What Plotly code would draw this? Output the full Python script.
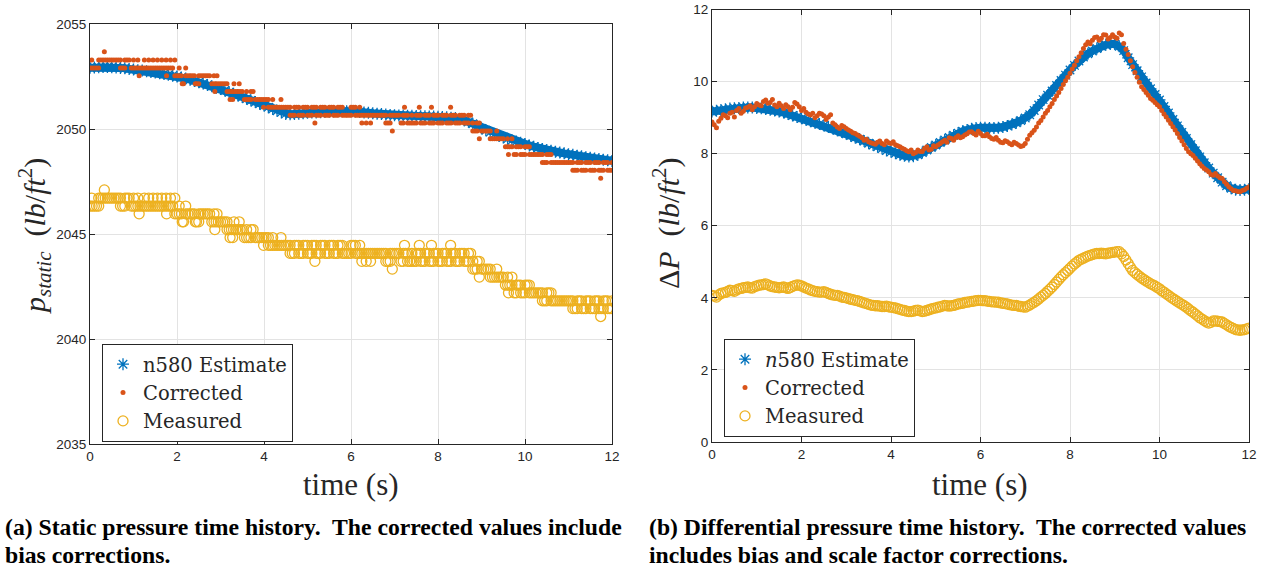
import plotly.graph_objects as go

# ---------------- data ----------------
t = [round(0.1 * i, 1) for i in range(121)]
t_mid = [round(0.05 + 0.1 * i, 2) for i in range(120)]

# (a) static pressure
ps_est = [2052.92, 2052.93, 2052.94, 2052.95, 2052.95, 2052.94, 2052.93, 2052.91, 2052.89, 2052.86,
          2052.83, 2052.80, 2052.78, 2052.75, 2052.72, 2052.69, 2052.65, 2052.62, 2052.58, 2052.54,
          2052.50, 2052.45, 2052.40, 2052.35, 2052.29, 2052.23, 2052.17, 2052.10, 2052.04, 2051.97,
          2051.90, 2051.83, 2051.75, 2051.68, 2051.60, 2051.52, 2051.44, 2051.36, 2051.28, 2051.20,
          2051.12, 2051.04, 2050.95, 2050.87, 2050.79, 2050.72, 2050.70, 2050.71, 2050.73, 2050.75,
          2050.77, 2050.78, 2050.79, 2050.80, 2050.81, 2050.82, 2050.83, 2050.84, 2050.84, 2050.85,
          2050.85, 2050.83, 2050.81, 2050.79, 2050.77, 2050.75, 2050.73, 2050.71, 2050.69, 2050.67,
          2050.65, 2050.64, 2050.64, 2050.63, 2050.63, 2050.62, 2050.61, 2050.61, 2050.60, 2050.59,
          2050.58, 2050.57, 2050.56, 2050.54, 2050.52, 2050.48, 2050.42, 2050.34, 2050.25, 2050.14,
          2050.03, 2049.94, 2049.85, 2049.76, 2049.68, 2049.60, 2049.53, 2049.46, 2049.40, 2049.34,
          2049.28, 2049.22, 2049.16, 2049.10, 2049.05, 2049.00, 2048.96, 2048.92, 2048.88, 2048.84,
          2048.80, 2048.77, 2048.73, 2048.70, 2048.66, 2048.63, 2048.60, 2048.57, 2048.54, 2048.51,
          2048.48]

ps_corr = [2052.91, 2052.91, 2052.91, 2053.29, 2053.29, 2053.29, 2053.29, 2052.91, 2052.91, 2053.29,
           2052.91, 2052.91, 2052.91, 2052.91, 2052.91, 2052.91, 2052.91, 2052.91, 2052.91, 2052.91,
           2052.54, 2052.54, 2052.54, 2052.54, 2052.54, 2052.54, 2052.54, 2052.54, 2052.16, 2052.16,
           2052.16, 2052.16, 2051.79, 2051.79, 2051.79, 2051.79, 2051.41, 2051.41, 2051.41, 2051.41,
           2051.41, 2051.04, 2051.04, 2051.04, 2051.04, 2051.04, 2051.04, 2051.04, 2050.66, 2050.66,
           2050.66, 2050.66, 2050.66, 2050.66, 2050.66, 2050.66, 2050.66, 2050.66, 2050.66, 2050.66,
           2050.66, 2050.66, 2050.66, 2050.66, 2050.66, 2050.66, 2050.66, 2050.66, 2050.66, 2050.66,
           2050.66, 2050.66, 2050.28, 2050.28, 2050.66, 2050.28, 2050.66, 2050.28, 2050.66, 2050.28,
           2050.66, 2050.28, 2050.66, 2050.28, 2050.66, 2050.28, 2050.66, 2050.28, 2050.28, 2049.91,
           2049.91, 2049.91, 2049.91, 2049.53, 2049.53, 2049.53, 2049.15, 2049.15, 2049.15, 2048.78,
           2048.78, 2048.78, 2048.78, 2048.78, 2048.78, 2048.40, 2048.40, 2048.40, 2048.40, 2048.40,
           2048.40, 2048.40, 2048.03, 2048.40, 2048.03, 2048.40, 2048.03, 2048.40, 2048.03, 2048.40,
           2048.03]

ps_corr_mid = [2052.91, 2052.91, 2053.29, 2053.29, 2053.29, 2053.29, 2053.29, 2052.91, 2053.29, 2052.91,
               2052.91, 2052.91, 2052.91, 2052.91, 2052.91, 2052.91, 2052.91, 2052.91, 2052.91, 2052.54,
               2052.54, 2052.16, 2052.54, 2052.54, 2052.16, 2052.54, 2052.54, 2052.54, 2052.16, 2052.16,
               2052.16, 2051.79, 2051.79, 2051.79, 2051.79, 2051.41, 2051.41, 2051.79, 2051.41, 2051.41,
               2051.41, 2051.04, 2051.04, 2051.04, 2051.04, 2051.04, 2050.66, 2051.04, 2050.66, 2051.04,
               2050.66, 2051.04, 2050.66, 2051.04, 2050.66, 2051.04, 2050.66, 2051.04, 2050.66, 2050.66,
               2051.04, 2050.66, 2050.66, 2050.66, 2050.66, 2050.66, 2050.66, 2050.66, 2050.28, 2050.66,
               2050.66, 2050.28, 2050.66, 2050.28, 2050.28, 2050.66, 2050.28, 2050.66, 2050.28, 2050.66,
               2050.28, 2050.66, 2050.28, 2050.66, 2050.28, 2050.66, 2050.28, 2050.66, 2049.91, 2050.28,
               2049.91, 2049.91, 2049.53, 2049.53, 2049.53, 2049.15, 2049.15, 2048.78, 2049.15, 2048.78,
               2049.15, 2048.78, 2048.78, 2048.78, 2048.40, 2048.78, 2048.40, 2048.40, 2048.40, 2048.40,
               2048.40, 2048.03, 2048.40, 2048.03, 2048.40, 2048.03, 2048.40, 2048.03, 2048.40, 2048.03]

ps_corr_extra_t = [0.04, 0.2, 0.33, 0.7, 0.8, 1.0, 1.1, 1.13, 1.25, 1.35, 1.45, 1.55, 1.65, 1.75, 1.76,
                   1.85, 1.95, 2.05, 2.12, 2.2, 2.42, 2.5, 2.85, 2.87, 2.92, 3.15, 3.22, 3.28, 3.31, 3.43,
                   3.6, 3.7, 3.99, 4.1, 4.2, 4.39, 4.6, 4.7, 4.8, 4.9, 5.0, 5.1, 5.17, 5.2, 5.3, 5.4, 5.5,
                   5.6, 5.7, 5.8, 6.0, 6.1, 6.2, 6.25, 6.35, 6.45, 6.8, 6.9, 6.95, 7.2, 7.23, 7.3, 7.4,
                   7.5, 7.57, 7.6, 7.7, 7.8, 7.85, 7.9, 8.0, 8.1, 8.2, 8.29, 8.3, 8.4, 8.5, 8.6, 8.7, 8.8,
                   8.9, 8.95, 9.2, 9.35, 9.6, 9.62, 9.7, 9.8, 9.9, 10.0, 10.1, 10.4, 10.5, 10.6, 11.1,
                   11.2, 11.3, 11.4, 11.5, 11.6, 11.7, 11.74, 11.8, 11.9, 12.0]
ps_corr_extra = [2053.29, 2053.29, 2053.68, 2053.29, 2053.29, 2053.29, 2053.29, 2052.54, 2053.29, 2053.29,
                 2053.29, 2053.29, 2053.29, 2053.29, 2052.54, 2053.29, 2053.29, 2052.91, 2052.16, 2052.91,
                 2052.16, 2052.16, 2052.54, 2051.79, 2052.54, 2052.16, 2051.41, 2051.41, 2052.16, 2052.16,
                 2051.79, 2051.79, 2051.04, 2051.41, 2051.41, 2051.41, 2050.66, 2050.66, 2051.04, 2051.04,
                 2051.04, 2051.04, 2050.28, 2051.04, 2051.04, 2051.04, 2051.04, 2051.04, 2051.04, 2051.04,
                 2051.04, 2051.04, 2051.04, 2050.28, 2050.28, 2050.28, 2050.28, 2050.28, 2049.91, 2050.66,
                 2051.04, 2050.66, 2050.28, 2050.66, 2051.04, 2050.28, 2050.66, 2050.28, 2051.04, 2050.66,
                 2050.28, 2050.66, 2050.28, 2051.04, 2050.66, 2050.28, 2050.66, 2050.28, 2050.66, 2049.91,
                 2050.28, 2049.53, 2049.53, 2049.91, 2049.53, 2048.78, 2049.53, 2048.78, 2049.15, 2049.15,
                 2049.15, 2048.40, 2048.78, 2048.78, 2048.03, 2048.40, 2048.03, 2048.40, 2048.03, 2048.40,
                 2048.03, 2047.65, 2048.40, 2048.03, 2048.40]

ps_meas = [2046.33, 2046.33, 2046.33, 2046.71, 2046.71, 2046.71, 2046.71, 2046.33, 2046.33, 2046.71,
           2046.33, 2046.33, 2046.33, 2046.33, 2046.33, 2046.33, 2046.33, 2046.33, 2046.33, 2046.33,
           2045.96, 2045.96, 2045.96, 2045.96, 2045.96, 2045.96, 2045.96, 2045.96, 2045.58, 2045.58,
           2045.58, 2045.58, 2045.21, 2045.21, 2045.21, 2045.21, 2044.83, 2044.83, 2044.83, 2044.83,
           2044.83, 2044.46, 2044.46, 2044.46, 2044.46, 2044.46, 2044.46, 2044.46, 2044.08, 2044.08,
           2044.08, 2044.08, 2044.08, 2044.08, 2044.08, 2044.08, 2044.08, 2044.08, 2044.08, 2044.08,
           2044.08, 2044.08, 2044.08, 2044.08, 2044.08, 2044.08, 2044.08, 2044.08, 2044.08, 2044.08,
           2044.08, 2044.08, 2043.70, 2043.70, 2044.08, 2043.70, 2044.08, 2043.70, 2044.08, 2043.70,
           2044.08, 2043.70, 2044.08, 2043.70, 2044.08, 2043.70, 2044.08, 2043.70, 2043.70, 2043.33,
           2043.33, 2043.33, 2043.33, 2042.95, 2042.95, 2042.95, 2042.57, 2042.57, 2042.57, 2042.20,
           2042.20, 2042.20, 2042.20, 2042.20, 2042.20, 2041.82, 2041.82, 2041.82, 2041.82, 2041.82,
           2041.82, 2041.82, 2041.45, 2041.82, 2041.45, 2041.82, 2041.45, 2041.82, 2041.45, 2041.82,
           2041.45]

ps_meas_mid = [2046.33, 2046.33, 2046.71, 2046.71, 2046.71, 2046.71, 2046.71, 2046.33, 2046.71, 2046.33,
               2046.33, 2046.33, 2046.33, 2046.33, 2046.33, 2046.33, 2046.33, 2046.33, 2046.33, 2045.96,
               2045.96, 2045.58, 2045.96, 2045.96, 2045.58, 2045.96, 2045.96, 2045.96, 2045.58, 2045.58,
               2045.58, 2045.21, 2045.21, 2045.21, 2045.21, 2044.83, 2044.83, 2045.21, 2044.83, 2044.83,
               2044.83, 2044.46, 2044.46, 2044.46, 2044.46, 2044.46, 2044.08, 2044.46, 2044.08, 2044.46,
               2044.08, 2044.46, 2044.08, 2044.46, 2044.08, 2044.46, 2044.08, 2044.46, 2044.08, 2044.08,
               2044.46, 2044.08, 2044.08, 2044.08, 2044.08, 2044.08, 2044.08, 2044.08, 2043.70, 2044.08,
               2044.08, 2043.70, 2044.08, 2043.70, 2043.70, 2044.08, 2043.70, 2044.08, 2043.70, 2044.08,
               2043.70, 2044.08, 2043.70, 2044.08, 2043.70, 2044.08, 2043.70, 2044.08, 2043.33, 2043.70,
               2043.33, 2043.33, 2042.95, 2042.95, 2042.95, 2042.57, 2042.57, 2042.20, 2042.57, 2042.20,
               2042.57, 2042.20, 2042.20, 2042.20, 2041.82, 2042.20, 2041.82, 2041.82, 2041.82, 2041.82,
               2041.82, 2041.45, 2041.82, 2041.45, 2041.82, 2041.45, 2041.82, 2041.45, 2041.82, 2041.45]

ps_meas_extra_t = ps_corr_extra_t
ps_meas_extra = [2046.71, 2046.71, 2047.10, 2046.71, 2046.71, 2046.71, 2046.71, 2045.96, 2046.71, 2046.71,
                 2046.71, 2046.71, 2046.71, 2046.71, 2045.96, 2046.71, 2046.71, 2046.33, 2045.58, 2046.33,
                 2045.58, 2045.58, 2045.96, 2045.21, 2045.96, 2045.58, 2044.83, 2044.83, 2045.58, 2045.58,
                 2045.21, 2045.21, 2044.46, 2044.83, 2044.83, 2044.83, 2044.08, 2044.08, 2044.46, 2044.46,
                 2044.46, 2044.46, 2043.70, 2044.46, 2044.46, 2044.46, 2044.46, 2044.46, 2044.46, 2044.46,
                 2044.46, 2044.46, 2044.46, 2043.70, 2043.70, 2043.70, 2043.70, 2043.70, 2043.33, 2044.08,
                 2044.46, 2044.08, 2043.70, 2044.08, 2044.46, 2043.70, 2044.08, 2043.70, 2044.46, 2044.08,
                 2043.70, 2044.08, 2043.70, 2044.46, 2044.08, 2043.70, 2044.08, 2043.70, 2044.08, 2043.33,
                 2043.70, 2042.95, 2042.95, 2043.33, 2042.95, 2042.20, 2042.95, 2042.20, 2042.57, 2042.57,
                 2042.57, 2041.82, 2042.20, 2042.20, 2041.45, 2041.82, 2041.45, 2041.82, 2041.45, 2041.82,
                 2041.45, 2041.07, 2041.82, 2041.45, 2041.82]

# (b) differential pressure
dp_est = [9.17, 9.19, 9.21, 9.23, 9.25, 9.26, 9.27, 9.28, 9.28, 9.28,
          9.27, 9.26, 9.24, 9.22, 9.20, 9.17, 9.14, 9.10, 9.06, 9.02,
          8.98, 8.94, 8.90, 8.86, 8.82, 8.78, 8.74, 8.70, 8.65, 8.60,
          8.55, 8.50, 8.45, 8.40, 8.35, 8.29, 8.24, 8.19, 8.14, 8.09,
          8.05, 8.01, 7.97, 7.94, 7.92, 7.93, 7.97, 8.03, 8.10, 8.17,
          8.24, 8.31, 8.38, 8.45, 8.51, 8.57, 8.62, 8.66, 8.69, 8.71,
          8.72, 8.72, 8.71, 8.71, 8.72, 8.74, 8.77, 8.81, 8.86, 8.92,
          8.99, 9.08, 9.20, 9.35, 9.50, 9.62, 9.74, 9.89, 10.03, 10.18,
          10.32, 10.45, 10.57, 10.68, 10.77, 10.85, 10.92, 10.98, 11.02, 11.04,
          11.04, 10.98, 10.86, 10.66, 10.47, 10.30, 10.13, 9.96, 9.80, 9.64,
          9.49, 9.31, 9.13, 8.95, 8.77, 8.59, 8.42, 8.25, 8.08, 7.91,
          7.75, 7.60, 7.46, 7.33, 7.21, 7.11, 7.04, 7.00, 6.99, 7.00,
          7.02]

dp_corr = [8.88, 8.72, 8.98, 9.05, 9.12, 9.02, 9.25, 9.18, 9.29, 9.22,
           9.39, 9.33, 9.49, 9.42, 9.35, 9.40, 9.25, 9.30, 9.29, 9.38,
           9.20, 9.15, 9.07, 9.00, 9.12, 9.05, 9.02, 8.85, 8.74, 8.78,
           8.70, 8.62, 8.56, 8.48, 8.37, 8.33, 8.28, 8.32, 8.28, 8.35,
           8.28, 8.25, 8.19, 8.12, 8.05, 8.00, 8.10, 8.06, 8.19, 8.12,
           8.19, 8.28, 8.37, 8.44, 8.37, 8.50, 8.47, 8.55, 8.61, 8.52,
           8.56, 8.50, 8.47, 8.40, 8.37, 8.30, 8.33, 8.25, 8.28, 8.20,
           8.28, 8.51, 8.65, 8.85, 9.02, 9.20, 9.39, 9.60, 9.81, 10.02,
           10.23, 10.45, 10.69, 10.92, 11.10, 11.15, 11.24, 11.20, 11.29, 11.22,
           11.24, 11.35, 11.06, 10.75, 10.41, 10.12, 9.86, 9.70, 9.53, 9.42,
           9.30, 9.10, 8.93, 8.75, 8.56, 8.35, 8.14, 8.00, 7.87, 7.72,
           7.59, 7.50, 7.40, 7.38, 7.31, 7.15, 7.03, 6.97, 6.94, 7.00,
           7.08]

dp_corr_mid = [8.80, 8.90, 9.08, 9.00, 9.15, 9.20, 9.12, 9.27, 9.33, 9.30,
               9.35, 9.45, 9.40, 9.50, 9.30, 9.33, 9.36, 9.22, 9.42, 9.30,
               9.25, 9.10, 9.12, 9.05, 9.10, 8.95, 9.08, 8.80, 8.70, 8.75,
               8.66, 8.58, 8.52, 8.44, 8.40, 8.30, 8.26, 8.35, 8.25, 8.30,
               8.33, 8.22, 8.15, 8.08, 8.10, 8.03, 8.06, 8.14, 8.10, 8.22,
               8.24, 8.33, 8.32, 8.42, 8.45, 8.44, 8.52, 8.60, 8.56, 8.62,
               8.50, 8.54, 8.42, 8.45, 8.32, 8.36, 8.28, 8.32, 8.24, 8.22,
               8.40, 8.58, 8.74, 8.92, 9.12, 9.30, 9.50, 9.70, 9.92, 10.12,
               10.35, 10.58, 10.80, 11.02, 11.05, 11.22, 11.15, 11.30, 11.18, 11.30,
               11.20, 11.30, 10.90, 10.58, 10.25, 9.98, 9.78, 9.62, 9.48, 9.36,
               9.20, 9.02, 8.84, 8.66, 8.45, 8.25, 8.05, 7.95, 7.80, 7.65,
               7.55, 7.42, 7.45, 7.33, 7.22, 7.08, 6.98, 6.95, 6.98, 7.04]

dp_meas = [4.07, 4.02, 4.12, 4.15, 4.21, 4.18, 4.25, 4.28, 4.30, 4.27,
           4.33, 4.36, 4.39, 4.33, 4.30, 4.28, 4.30, 4.26, 4.32, 4.36,
           4.33, 4.27, 4.22, 4.18, 4.16, 4.17, 4.12, 4.08, 4.07, 4.02,
           4.00, 3.96, 3.93, 3.90, 3.86, 3.82, 3.79, 3.78, 3.76, 3.77,
           3.74, 3.72, 3.68, 3.65, 3.62, 3.63, 3.66, 3.62, 3.65, 3.69,
           3.72, 3.75, 3.79, 3.77, 3.79, 3.83, 3.85, 3.88, 3.90, 3.92,
           3.93, 3.92, 3.90, 3.89, 3.88, 3.85, 3.83, 3.80, 3.79, 3.76,
           3.74, 3.80, 3.88, 3.97, 4.07, 4.18, 4.30, 4.44, 4.58, 4.70,
           4.82, 4.94, 5.04, 5.10, 5.16, 5.20, 5.23, 5.24, 5.22, 5.25,
           5.27, 5.28, 5.15, 4.95, 4.76, 4.65, 4.55, 4.47, 4.39, 4.33,
           4.25, 4.16, 4.07, 3.98, 3.90, 3.82, 3.74, 3.64, 3.55, 3.45,
           3.37, 3.30, 3.36, 3.35, 3.33, 3.25, 3.18, 3.12, 3.10, 3.12,
           3.16]

dp_meas_mid = [4.05, 4.08, 4.14, 4.18, 4.20, 4.22, 4.26, 4.29, 4.28, 4.31,
               4.35, 4.37, 4.36, 4.31, 4.29, 4.29, 4.28, 4.29, 4.34, 4.35,
               4.30, 4.25, 4.20, 4.17, 4.16, 4.15, 4.10, 4.07, 4.05, 4.01,
               3.98, 3.95, 3.92, 3.88, 3.84, 3.80, 3.78, 3.77, 3.76, 3.75,
               3.73, 3.70, 3.66, 3.63, 3.62, 3.65, 3.64, 3.63, 3.67, 3.71,
               3.74, 3.77, 3.78, 3.78, 3.81, 3.84, 3.87, 3.89, 3.91, 3.93,
               3.92, 3.91, 3.89, 3.88, 3.86, 3.84, 3.81, 3.79, 3.77, 3.75,
               3.77, 3.84, 3.92, 4.02, 4.12, 4.24, 4.37, 4.51, 4.64, 4.76,
               4.88, 4.99, 5.07, 5.13, 5.18, 5.22, 5.23, 5.23, 5.24, 5.26,
               5.28, 5.22, 5.05, 4.85, 4.70, 4.60, 4.51, 4.43, 4.36, 4.29,
               4.20, 4.11, 4.02, 3.94, 3.86, 3.78, 3.69, 3.60, 3.50, 3.41,
               3.33, 3.32, 3.36, 3.34, 3.29, 3.21, 3.15, 3.11, 3.11, 3.14]

x_ticks = [0, 2, 4, 6, 8, 10, 12]
ps_ticks = [2035, 2040, 2045, 2050, 2055]
dp_ticks = [0, 2, 4, 6, 8, 10, 12]

names_a = ["n580 Estimate", "Corrected", "Measured"]
names_b = ["<i>n</i>580 Estimate", "Corrected", "Measured"]
caption_a = ["(a) Static pressure time history.  The corrected values include", "bias corrections."]
caption_b = ["(b) Differential pressure time history.  The corrected values", "includes bias and scale factor corrections."]

# ---------------- styling ----------------
W, H = 1265, 574
BLUE, ORANGE, YELLOW = "#0072BD", "#D95319", "#EDB120"
AX = "#262626"
GRID = "#e3e3e3"
SERIF = "Liberation Serif, Times New Roman, serif"
LEG_SERIF = "DejaVu Serif, Liberation Serif, serif"
SANS = "Liberation Sans, Arial, sans-serif"


def px_x(p):
    return p / W


def px_y(p):
    return 1 - p / H


fig = go.Figure()


def add_series(xa, ya, legend, names, est, corr_t, corr, meas_t, meas):
    # solid core of the dense estimate band (same data as the asterisks)
    fig.add_trace(go.Scatter(
        x=t, y=est, mode="lines", xaxis=xa, yaxis=ya, legend=legend, showlegend=False,
        hoverinfo="skip", line=dict(color=BLUE, width=8)))
    fig.add_trace(go.Scatter(
        x=t, y=est, mode="markers", name=names[0], xaxis=xa, yaxis=ya, legend=legend,
        marker=dict(symbol="asterisk", size=10, color=BLUE, line=dict(color=BLUE, width=1.3))))
    fig.add_trace(go.Scatter(
        x=corr_t, y=corr, mode="markers", name=names[1], xaxis=xa, yaxis=ya, legend=legend,
        marker=dict(symbol="circle", size=5, color=ORANGE, line=dict(width=0))))
    fig.add_trace(go.Scatter(
        x=meas_t, y=meas, mode="markers", name=names[2], xaxis=xa, yaxis=ya, legend=legend,
        marker=dict(symbol="circle-open", size=10, color=YELLOW, line=dict(color=YELLOW, width=1.3))))


add_series("x", "y", "legend", names_a, ps_est,
           t + t_mid + ps_corr_extra_t, ps_corr + ps_corr_mid + ps_corr_extra,
           t + t_mid + ps_meas_extra_t, ps_meas + ps_meas_mid + ps_meas_extra)
add_series("x2", "y2", "legend2", names_b, dp_est,
           t + t_mid, dp_corr + dp_corr_mid,
           t + t_mid, dp_meas + dp_meas_mid)

axis_common = dict(
    showline=True, linecolor=AX, linewidth=1, mirror="ticks",
    ticks="inside", ticklen=5, tickcolor=AX, tickwidth=1,
    showgrid=True, gridcolor=GRID, gridwidth=1, zeroline=False, automargin=False,
    tickfont=dict(family=SANS, size=13.5, color=AX),
)

legend_common = dict(
    bgcolor="white", bordercolor=AX, borderwidth=1,
    font=dict(family=LEG_SERIF, size=19.5, color=AX),
    xanchor="left", yanchor="top", xref="paper", yref="paper",
    tracegroupgap=0, itemwidth=30,
)

fig.update_layout(
    width=W, height=H, margin=dict(l=0, r=0, t=0, b=0, pad=0, autoexpand=False),
    paper_bgcolor="white", plot_bgcolor="white", showlegend=True,
    xaxis=dict(domain=[px_x(90), px_x(612)], range=[0, 12], tickvals=x_ticks, anchor="y", **axis_common),
    yaxis=dict(domain=[px_y(444), px_y(24)], range=[2035, 2055], tickvals=ps_ticks, anchor="x", **axis_common),
    xaxis2=dict(domain=[px_x(712), px_x(1249)], range=[0, 12], tickvals=x_ticks, anchor="y2", **axis_common),
    yaxis2=dict(domain=[px_y(442), px_y(9.5)], range=[0, 12], tickvals=dp_ticks, anchor="x2", **axis_common),
    legend=dict(x=px_x(102), y=px_y(344), **legend_common),
    legend2=dict(x=px_x(724), y=px_y(339), **legend_common),
)

ann = []
center = dict(xref="paper", yref="paper", xanchor="center", yanchor="middle", showarrow=False)
# axis titles
ann.append(dict(text="time (s)", x=px_x(351), y=px_y(484),
                font=dict(family=SERIF, size=31, color=AX), **center))
ann.append(dict(text="time (s)", x=px_x(980), y=px_y(484),
                font=dict(family=SERIF, size=31, color=AX), **center))
ann.append(dict(text="<i>p</i><sub><i>static</i></sub>  (<i>lb</i>/<i>ft</i><sup>2</sup>)",
                x=px_x(35), y=px_y(236), textangle=-90,
                font=dict(family=SERIF, size=30, color=AX), **center))
ann.append(dict(text="Δ<i>P</i>  (<i>lb</i>/<i>ft</i><sup>2</sup>)",
                x=px_x(666), y=px_y(224), textangle=-90,
                font=dict(family=SERIF, size=30, color=AX), **center))
# captions
for i, line in enumerate(caption_a):
    ann.append(dict(text="<b>" + line + "</b>", x=px_x(3), y=px_y(527 + 28 * i), xref="paper", yref="paper",
                    xanchor="left", yanchor="middle", showarrow=False,
                    font=dict(family=SERIF, size=23.7, color="black")))
for i, line in enumerate(caption_b):
    ann.append(dict(text="<b>" + line + "</b>", x=px_x(647), y=px_y(527 + 28 * i), xref="paper", yref="paper",
                    xanchor="left", yanchor="middle", showarrow=False,
                    font=dict(family=SERIF, size=23.7, color="black")))
fig.update_layout(annotations=ann)

fig.write_html(
    "out.html",
    config={"displayModeBar": False},
    post_script="document.body.style.margin='0';document.body.style.padding='0';"
                "document.body.style.overflow='hidden';",
)
